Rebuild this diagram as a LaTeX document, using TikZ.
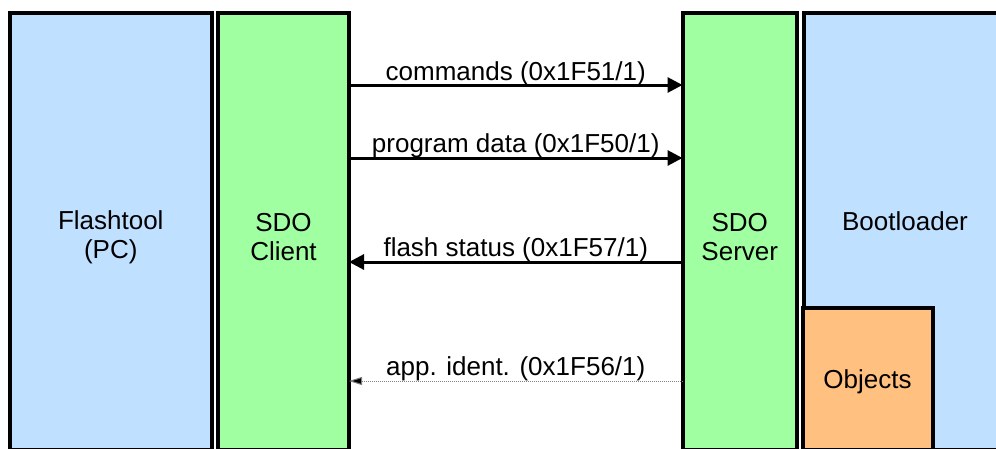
\documentclass[tikz,border=0pt]{standalone}
\usepackage{fontspec}
\setmainfont{Liberation Sans}
\usetikzlibrary{arrows.meta}

\definecolor{toolblue}{RGB}{192,224,255}
\definecolor{sdogreen}{RGB}{160,255,160}
\definecolor{objorange}{RGB}{255,192,128}

\tikzset{
  block/.style={draw=black, line width=4pt, inner sep=0pt, outer sep=0pt, rectangle},
  blocktext/.style={inner sep=0pt, align=center, font=\fontsize{26}{29}\selectfont},
  lbl/.style={inner sep=0pt, font=\fontsize{26}{29}\selectfont, anchor=base},
  flow/.style={line width=3pt, -{Triangle[length=15pt,width=15pt]}},
  ident/.style={line width=1pt, densely dotted, draw=gray,
                -{Triangle[length=13pt,width=8pt,fill=black]}}
}

\begin{document}
\begin{tikzpicture}[x=1pt,y=-1pt]
  \useasboundingbox (0,0) rectangle (996,448);
  \clip (0,0) rectangle (996,448);

  % the four columns and the object dictionary
  \node[block, fill=toolblue,  minimum width=201.5pt, minimum height=437pt] (flash)  at (110.75,231) {};
  \node[block, fill=sdogreen,  minimum width=131pt,   minimum height=437pt] (client) at (283.5,231) {};
  \node[block, fill=sdogreen,  minimum width=114.5pt, minimum height=437pt] (server) at (739.75,231) {};
  \node[block, fill=toolblue,  minimum width=196pt,   minimum height=437pt] (boot)   at (902,231) {};
  \node[block, fill=objorange, minimum width=130pt,   minimum height=141.5pt] (objects) at (867.5,378.75) {};

  % captions
  \node[blocktext] (flashtxt)  at ([yshift=-6pt]flash.center)  {Flashtool\\(PC)};
  \node[blocktext] (clienttxt) at ([yshift=-6pt]client.center) {SDO\\Client};
  \node[blocktext] (servertxt) at ([yshift=-6pt]server.center) {SDO\\Server};
  \node[blocktext] (boottxt)   at (905,221) {Bootloader};
  \node[blocktext] (objtxt)    at ([yshift=-3pt]objects.center) {Objects};

  % SDO transfers between client and server
  \draw[flow] (client.east |- 0,85) -- node[lbl, midway, yshift=5pt] {commands (0x1F51/1)} (server.west |- 0,85);
  \draw[flow] (client.east |- 0,158) -- node[lbl, midway, yshift=6pt] {program data (0x1F50/1)} (server.west |- 0,158);
  \draw[flow] (server.west |- 0,262) -- node[lbl, midway, yshift=6pt] {flash status (0x1F57/1)} (client.east |- 0,262);
  \draw[ident] (server.west |- 0,381) -- node[lbl, midway, yshift=6pt, text=black] {app. ident. (0x1F56/1)} (client.east |- 0,381);
\end{tikzpicture}
\end{document}
